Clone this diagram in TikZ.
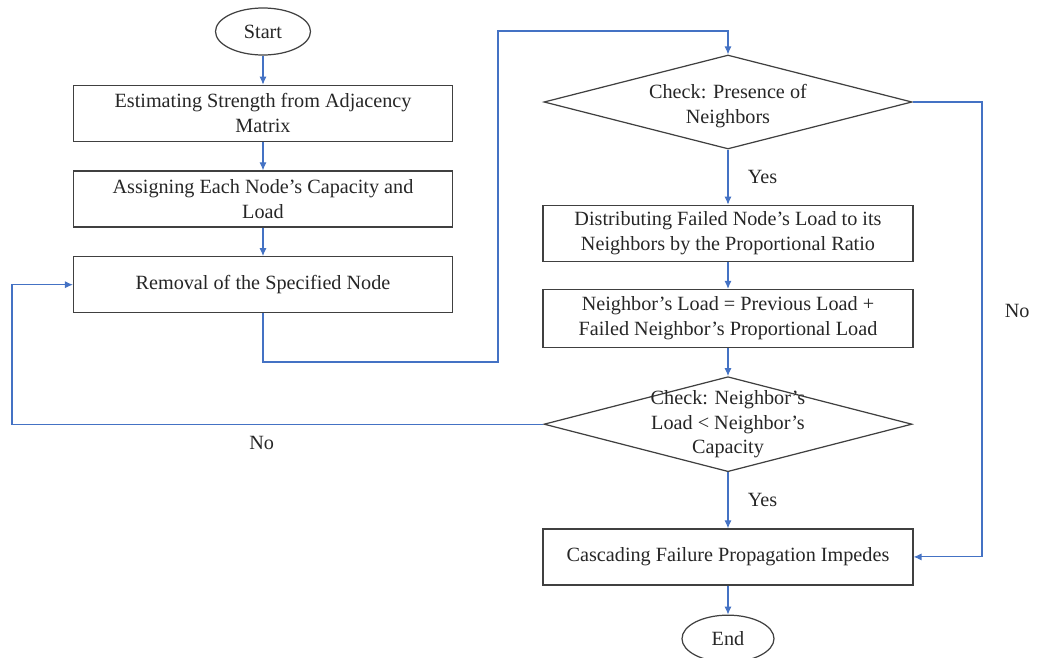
\documentclass[tikz,border=0pt]{standalone}
\usepackage{fontspec}
\setmainfont{LiberationSerif}[Extension=.ttf, UprightFont=*-Regular, BoldFont=*-Bold, ItalicFont=*-Italic, BoldItalicFont=*-BoldItalic]
\usepackage{xcolor}
\usepackage{tikz}
\usetikzlibrary{positioning, shapes.geometric, arrows.meta}
\definecolor{flowblue}{RGB}{68,114,196}

\begin{document}
\begin{tikzpicture}[node distance=0.56cm, font=\fontsize{11.5}{14}\selectfont, text=black!85,
    box/.style={draw=black!75, line width=0.7pt, minimum width=7.58cm, minimum height=1.12cm, align=center},
    rbox/.style={box, minimum width=7.4cm},
    term/.style={ellipse, draw=black!75, line width=0.7pt, minimum width=1.9cm, minimum height=0.94cm},
    check/.style={diamond, draw=black!75, line width=0.7pt, minimum width=7.36cm, minimum height=1.88cm, inner sep=0pt},
    flow/.style={draw=flowblue, line width=0.6pt, -{Latex[length=4.5pt,width=4pt]}}]
    \useasboundingbox (0,0) rectangle (20.74,-13.16);
    \node[term] (A) at (5.26,-0.63) {Start};
    \node[box] (B) [below=0.58cm of A] {Estimating Strength from Adjacency\\Matrix};
    \node[box] (C) [below=0.57cm of B] {Assigning Each Node's Capacity and\\Load};
    \node[box] (D) [below=0.57cm of C] {Removal of the Specified Node};
    \node[check] (E) at (14.56,-2.04) {};
    \node[align=center] (E1) at ([yshift=-0.08cm]E.center) {Check: Presence of\\Neighbors};
    \node[rbox] (F) [below=1.1cm of E] {Distributing Failed Node's Load to its\\Neighbors by the Proportional Ratio};
    \node[rbox, minimum height=1.16cm] (G) [below=0.54cm of F] {Neighbor's Load = Previous Load +\\Failed Neighbor's Proportional Load};
    \node[check, minimum height=1.9cm] (H) [below=0.56cm of G] {};
    \node[align=center] (H1) at (H) {Check: Neighbor's\\Load < Neighbor's\\Capacity};
    \node[rbox] (I) [below=1.12cm of H] {Cascading Failure Propagation Impedes};
    \node[term, minimum width=1.84cm] (J) [below=0.58cm of I] {End};
    \coordinate (P) at (9.96,-7.24);
    \coordinate (Q) at (14.56,-0.62);
    \coordinate (R) at (19.64,0);
    \coordinate (L) at (0.24,0);
    \draw[flow] (A) -- (B);
    \draw[flow] (B) -- (C);
    \draw[flow] (C) -- (D);
    \draw[flow] (D.south) |- (P) |- (Q) -- (E.north);
    \draw[flow] (E) -- node[right=0.27cm] (y1) {Yes} (F);
    \draw[flow] (F) -- (G);
    \draw[flow] (G) -- (H);
    \draw[flow] (H) -- node[right=0.27cm] (y2) {Yes} (I);
    \draw[flow] (I) -- (J);
    \draw[flow] (E.east) -- (E.east -| R) |- node[right=0.33cm, pos=0.23] (n1) {No} (I.east);
    \draw[flow] (H.west) -- node[below=0.12cm, pos=0.53] (n2) {No} (H.west -| L) |- (D.west);
\end{tikzpicture}
\end{document}
